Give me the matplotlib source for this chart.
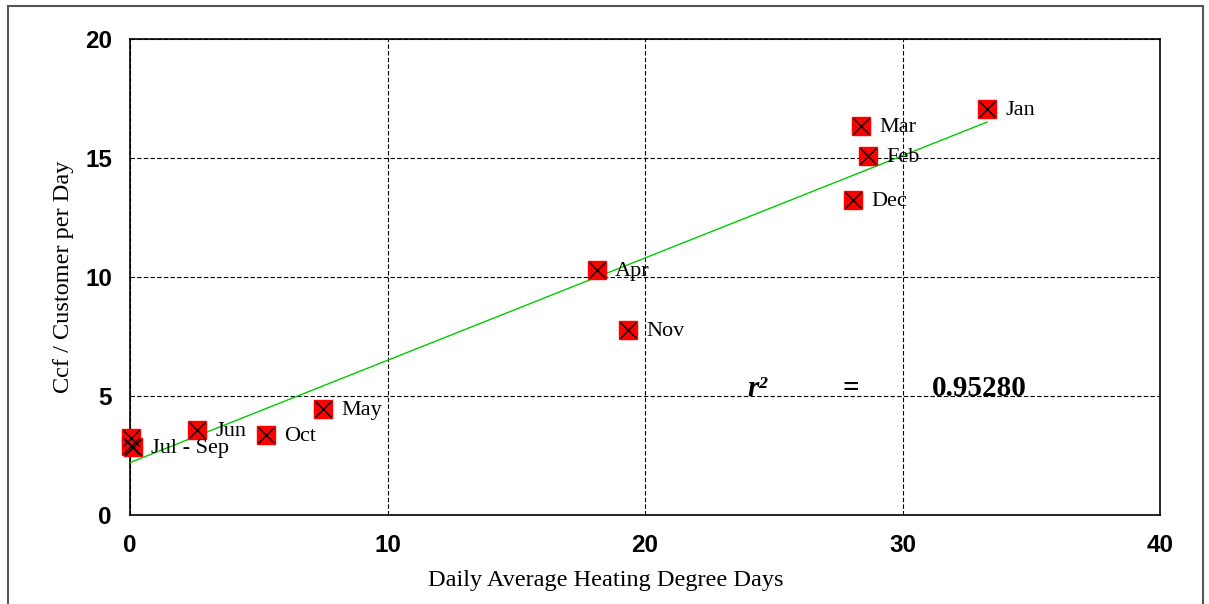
import matplotlib.pyplot as plt
import numpy as np
from matplotlib.patches import Rectangle

# data
months = ["Jan", "Feb", "Mar", "Apr", "May", "Jun", "Jul - Sep", "", "", "Oct", "Nov", "Dec"]
hdd = [33.28, 28.66, 28.39, 18.14, 7.50, 2.60, 0.10, 0.05, 0.02, 5.28, 19.34, 28.08]
ccf = [17.06, 15.08, 16.34, 10.29, 4.45, 3.57, 2.84, 2.90, 3.22, 3.36, 7.77, 13.24]
r2_text = "0.95280"

x = np.array(hdd)
y = np.array(ccf)
slope, intercept = np.polyfit(x, y, 1)

fig = plt.figure(figsize=(12.09, 6.04), dpi=100)
ax = fig.add_axes([130 / 1209, 89 / 604, 1030 / 1209, 476 / 604])

# outer frame of the chart area
fig.patches.append(Rectangle((8 / 1209, -0.02), 1195 / 1209, 1.0 - 6 / 604 + 0.02,
                             transform=fig.transFigure, fill=False,
                             edgecolor="#555555", linewidth=1.5))

ax.set_xlim(0, 40)
ax.set_ylim(0, 20)
ax.set_xticks([0, 10, 20, 30, 40])
ax.set_yticks([0, 5, 10, 15, 20])
ax.grid(True, color="black", linestyle=(0, (4, 2)), linewidth=0.8)
for s in ax.spines.values():
    s.set_linewidth(1.2)
ax.tick_params(axis="y", length=0, pad=13)
ax.tick_params(axis="x", length=0, pad=14)
for lab in ax.get_xticklabels() + ax.get_yticklabels():
    lab.set_family("Liberation Sans")
    lab.set_fontweight("bold")
    lab.set_fontsize(17.5)

# trend line
xl = np.array([0, x.max()])
ax.plot(xl, intercept + slope * xl, color="#00cc00", linewidth=1.0, zorder=3)

ax.plot(x, y, linestyle="none", marker="s", markersize=12.5, markerfacecolor="red",
        markeredgecolor="red", zorder=4, clip_on=False)
ax.plot(x, y, linestyle="none", marker="x", markersize=11, color="black",
        markeredgewidth=1.0, zorder=5, clip_on=False)

for m, xi, yi in zip(months, hdd, ccf):
    if m:
        ax.annotate(m, (xi, yi), xytext=(13, -1), textcoords="offset points",
                    va="center", ha="left", fontsize=16, family="Liberation Serif", zorder=6)

ax.set_xlabel("Daily Average Heating Degree Days", family="Liberation Serif", fontsize=17.5, labelpad=8)
ax.xaxis.set_label_coords(0.462, -0.115)
ax.set_ylabel("Ccf / Customer per Day", family="Liberation Serif", fontsize=17.5, labelpad=8)

ax.text(24.35, 5.3, "r²", family="Liberation Serif", fontsize=21, fontweight="bold",
        fontstyle="italic", ha="center", va="center")
ax.text(28.0, 5.3, "=", family="Liberation Serif", fontsize=21, fontweight="bold",
        ha="center", va="center")
ax.text(33.0, 5.3, r2_text, family="Liberation Serif", fontsize=21, fontweight="bold",
        ha="center", va="center")

fig.savefig("out.png", dpi=100)
